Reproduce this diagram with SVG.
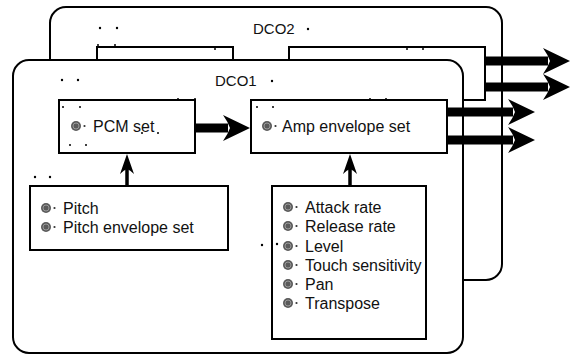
<svg xmlns="http://www.w3.org/2000/svg" width="573" height="356" viewBox="0 0 573 356">
<style>
.frame{fill:#fff;stroke:#000;stroke-width:2}
.box{fill:#fff;stroke:#000;stroke-width:2}
.t{font-family:"Liberation Sans",Arial,sans-serif;font-size:16px;fill:#111}
.title{font-family:"Liberation Sans",Arial,sans-serif;font-size:15px;fill:#111}
.shaft{stroke:#000;stroke-width:9;fill:none}
.vshaft{stroke:#000;stroke-width:3.5;fill:none}
.dot{fill:#000}
</style>
<defs>
<path id="hh" d="M0,0 L-27,-13 Q-22,-6 -20,0 Q-22,6 -27,13 Z" fill="#000"/>
<path id="vh" d="M0,0 L-7,20 Q-3,16 0,15 Q3,16 7,20 Z" fill="#000"/>
<g id="bul"><circle cx="0" cy="0" r="5" fill="#5a5a5a"/><circle cx="0" cy="0" r="3" fill="none" stroke="#999" stroke-width="1"/><circle cx="8.5" cy="0" r="1.1" fill="#333"/></g>
</defs>

<g id="dco2">
<rect class="frame" x="50" y="7" width="452" height="273" rx="16"/>
<text class="title" x="253" y="34">DCO2</text>
<circle class="dot" cx="308" cy="29" r="1.2"/>
<circle class="dot" cx="100" cy="28" r="1.2"/>
<circle class="dot" cx="117" cy="28" r="1.2"/>
</g>
<g id="dco2-pcm">
<rect class="box" x="97" y="47" width="136" height="53"/>
<circle class="dot" cx="98" cy="45" r="1"/><circle class="dot" cx="115" cy="45" r="1"/><circle class="dot" cx="215" cy="49" r="1"/>
</g>
<g id="dco2-amp">
<rect class="box" x="289" y="47" width="196" height="53"/>
<circle class="dot" cx="407" cy="49" r="1"/><circle class="dot" cx="423" cy="49" r="1"/>
</g>

<g id="dco1">
<rect class="frame" x="13" y="60" width="450" height="293" rx="16"/>
<text class="title" x="215" y="86">DCO1</text>
<circle class="dot" cx="272" cy="81" r="1.2"/>
<circle class="dot" cx="62" cy="80" r="1.2"/>
<circle class="dot" cx="78" cy="80" r="1.2"/>
<circle class="dot" cx="35" cy="177" r="1.2"/>
<circle class="dot" cx="50" cy="177" r="1.2"/>
</g>

<g id="pcm-set">
<rect class="box" x="59" y="100" width="136" height="53"/>
<use href="#bul" x="76" y="126"/>
<text class="t" x="93" y="132">PCM set</text>
<circle class="dot" cx="63" cy="107" r="1"/><circle class="dot" cx="80" cy="107" r="1"/>
<circle class="dot" cx="70" cy="145" r="1"/><circle class="dot" cx="86" cy="145" r="1"/>
<circle class="dot" cx="178" cy="99" r="1"/><circle class="dot" cx="195" cy="99" r="1"/>
<circle class="dot" cx="142" cy="133" r="1"/><circle class="dot" cx="158" cy="133" r="1"/>
</g>

<g id="amp-envelope-set">
<rect class="box" x="251" y="100" width="196" height="53"/>
<use href="#bul" x="267" y="126"/>
<text class="t" x="282" y="132">Amp envelope set</text>
<circle class="dot" cx="257" cy="107" r="1"/><circle class="dot" cx="273" cy="107" r="1"/>
<circle class="dot" cx="370" cy="99" r="1"/><circle class="dot" cx="386" cy="99" r="1"/>
</g>

<g id="pitch-params">
<rect class="box" x="30" y="186" width="198" height="64"/>
<use href="#bul" x="46" y="208"/>
<text class="t" x="63" y="214">Pitch</text>
<use href="#bul" x="46" y="227"/>
<text class="t" x="63" y="233">Pitch envelope set</text>
</g>

<g id="amp-params">
<rect class="box" x="272" y="186" width="154" height="153"/>
<use href="#bul" x="288" y="207"/>
<text class="t" x="305" y="213">Attack rate</text>
<use href="#bul" x="288" y="226"/>
<text class="t" x="305" y="232">Release rate</text>
<use href="#bul" x="288" y="246"/>
<text class="t" x="305" y="252">Level</text>
<use href="#bul" x="288" y="265"/>
<text class="t" x="305" y="271">Touch sensitivity</text>
<use href="#bul" x="288" y="284"/>
<text class="t" x="305" y="290">Pan</text>
<use href="#bul" x="288" y="303"/>
<text class="t" x="305" y="309">Transpose</text>
<circle class="dot" cx="262" cy="245" r="1.2"/>
<circle class="dot" cx="277" cy="244" r="1.2"/>
</g>

<g id="connectors">
<line class="shaft" x1="485" y1="61" x2="548" y2="61"/><use href="#hh" x="570" y="61"/>
<line class="shaft" x1="485" y1="87" x2="548" y2="87"/><use href="#hh" x="570" y="87"/>
<line class="shaft" x1="447" y1="112" x2="513" y2="112"/><use href="#hh" x="535" y="112"/>
<line class="shaft" x1="447" y1="140" x2="513" y2="140"/><use href="#hh" x="535" y="140"/>
<line class="shaft" x1="195" y1="128" x2="228" y2="128"/><use href="#hh" x="250" y="128"/>
<line class="vshaft" x1="127" y1="186" x2="127" y2="168"/><use href="#vh" x="127" y="154"/>
<line class="vshaft" x1="350" y1="186" x2="350" y2="168"/><use href="#vh" x="350" y="154"/>
</g>
</svg>
